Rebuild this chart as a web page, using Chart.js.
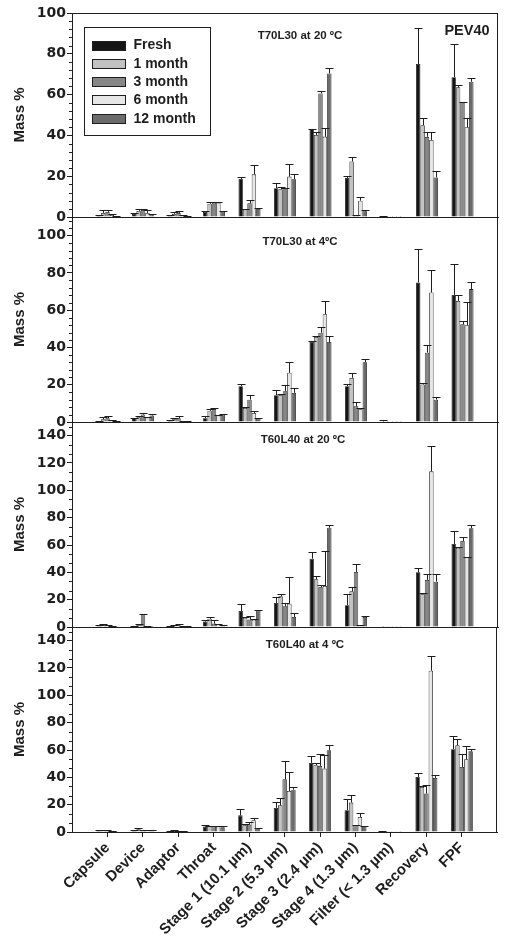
<!DOCTYPE html>
<html><head><meta charset="utf-8">
<script src="https://cdn.jsdelivr.net/npm/chart.js@4/dist/chart.umd.min.js"></script>
<style>
html,body{margin:0;padding:0;background:#fff;}
#wrap{position:relative;width:512px;height:942px;overflow:hidden;background:#fff;}
canvas{position:absolute;left:0;}
</style></head><body><div id="wrap">
<canvas id="c1" width="512" height="230" style="top:0px"></canvas>
<canvas id="c2" width="512" height="230" style="top:205px"></canvas>
<canvas id="c3" width="512" height="230" style="top:410px"></canvas>
<canvas id="c4" width="512" height="327" style="top:615px"></canvas>
</div>
<script>
// ---------- DATA ----------
const categories = ['Capsule','Device','Adaptor','Throat','Stage 1 (10.1 µm)','Stage 2 (5.3 µm)','Stage 3 (2.4 µm)','Stage 4 (1.3 µm)','Filter (< 1.3 µm)','Recovery','FPF'];
const seriesNames = ['Fresh','1 month','3 month','6 month','12 month'];
const panelTitles = ['T70L30 at 20 ºC','T70L30 at 4ºC','T60L40 at 20 ºC','T60L40 at 4 ºC'];
const yTicksA = [0,20,40,60,80,100];
const yTicksB = [0,20,40,60,80,100,120,140];

// T70L30 at 20 ºC : mean and SD (rows = Fresh, 1, 3, 6, 12 month)
const t70l30_20_mean = [
  [0.5,1.5,0.5,2.5,18.6,14.1,43.0,19.1,0.2,75.0,68.5],
  [2.0,3.0,1.5,6.5,3.8,13.6,40.2,27.2,0.1,45.0,63.6],
  [2.5,3.5,2.0,7.0,6.7,14.1,60.6,0.8,0.1,39.3,56.0],
  [1.0,2.0,0.5,7.0,20.9,19.8,39.4,8.0,0.1,37.8,44.0],
  [0.3,0.8,0.3,2.6,3.9,18.5,70.4,2.8,0.1,19.4,66.3]
];
const t70l30_20_sd = [
  [0.3,0.5,0.3,0.5,1.2,2.7,0.3,1.0,0.1,17.8,16.3],
  [1.2,1.0,1.0,1.0,0.3,1.3,1.3,2.0,0.1,3.5,1.2],
  [1.0,0.5,1.0,0.5,1.5,0.3,1.0,0.3,0.1,2.5,0.5],
  [0.5,1.5,0.3,0.5,4.6,6.3,4.1,1.8,0.1,3.8,4.5],
  [0.2,0.5,0.2,0.3,0.4,2.4,2.6,0.5,0.1,3.2,1.8]
];
// T70L30 at 4 ºC
const t70l30_4_mean = [
  [0.3,2.0,1.0,2.0,19.2,14.4,43.1,19.2,0.3,74.9,68.2],
  [1.5,2.5,1.5,6.0,7.5,14.5,45.6,23.7,0.1,20.1,65.0],
  [2.0,4.0,2.0,7.0,12.0,16.5,47.9,8.4,0.1,37.2,52.4],
  [0.7,2.5,0.5,3.5,4.8,26.4,57.8,7.0,0.1,69.5,51.9],
  [0.6,3.5,0.3,4.0,1.8,15.6,42.9,32.1,0.1,12.0,71.3]
];
const t70l30_4_sd = [
  [0.1,0.3,0.3,1.0,1.1,3.0,0.3,1.3,0.6,17.9,16.4],
  [1.0,0.5,0.5,1.0,0.3,0.3,0.4,2.7,0.1,0.9,3.2],
  [1.0,0.8,1.0,0.3,2.4,3.1,3.3,2.2,0.1,4.1,2.0],
  [0.3,0.3,0.2,0.5,0.9,5.9,7.2,0.3,0.1,12.0,12.7],
  [0.2,0.6,0.1,0.3,0.4,2.7,3.1,1.5,0.1,1.5,3.9]
];
// T60L40 at 20 ºC
const t60l40_20_mean = [
  [0.8,0.5,0.5,4.0,11.7,17.6,50.0,15.9,0.2,40.1,60.8],
  [1.2,1.5,1.0,6.0,6.8,22.5,35.0,26.1,0.1,24.2,58.0],
  [1.0,9.5,1.2,2.5,5.4,15.1,29.3,40.3,0.1,34.5,63.0],
  [0.3,0.3,0.4,2.0,5.4,17.0,30.0,0.7,0.1,113.9,51.0],
  [0.2,0.2,0.3,1.0,12.2,7.3,72.6,7.3,0.1,33.2,72.3]
];
const t60l40_20_sd = [
  [0.3,0.2,0.2,0.9,4.9,4.4,5.0,8.3,0.1,2.9,9.6],
  [0.8,0.5,0.5,1.3,0.5,1.9,2.0,3.2,0.1,0.4,0.5],
  [0.3,0.3,0.8,2.4,2.6,2.5,1.2,6.1,0.1,4.4,3.2],
  [0.1,0.1,0.1,0.3,0.3,19.6,25.5,0.5,0.1,18.8,0.5],
  [0.1,0.1,0.1,0.3,0.2,3.2,1.9,1.0,0.1,5.4,2.2]
];
// T60L40 at 4 ºC
const t60l40_4_mean = [
  [0.8,0.8,0.5,4.0,12.2,17.6,50.6,15.9,0.3,40.3,60.6],
  [1.0,2.0,0.8,4.0,4.9,19.5,48.9,21.5,0.1,33.0,63.5],
  [0.8,1.5,0.3,4.0,5.4,38.6,48.4,4.9,0.1,28.1,47.6],
  [0.3,1.0,0.3,4.0,8.6,30.0,46.4,11.0,0.1,118.0,53.3],
  [0.2,1.0,0.2,3.5,2.0,31.0,59.9,4.2,0.1,39.6,59.1]
];
const t60l40_4_sd = [
  [0.3,0.3,0.2,0.9,4.4,4.6,4.9,8.0,0.4,2.9,9.5],
  [0.3,1.2,0.4,0.3,1.2,5.7,1.9,5.9,0.1,0.7,4.9],
  [0.7,0.3,0.1,0.3,1.9,13.2,9.0,0.5,0.1,6.6,9.3],
  [0.1,0.3,0.1,0.3,1.9,14.0,9.8,2.9,0.1,11.0,9.7],
  [0.1,0.3,0.1,0.7,0.7,2.2,4.1,0.3,0.1,2.4,1.9]
];

// ---------- STYLE ----------
const seriesColors = ['#151515','#c2c2c2','#878787','#e6e6e6','#6b6b6b'];
const INK = '#1e1e1e';
const SANS = '"Liberation Sans", Arial, Helvetica, sans-serif';
Chart.defaults.font.family = SANS;
Chart.defaults.color = INK;

const paddedLabels = [''].concat(categories, ['']);
const pad = arr => [null].concat(arr, [null]);

const decor = {
  id: 'decor',
  afterDatasetsDraw(chart, args, o) {
    const ctx = chart.ctx, a = chart.chartArea, ys = chart.scales.y;
    ctx.save();
    // error bars (upper)
    ctx.strokeStyle = INK; ctx.lineWidth = 1;
    chart.data.datasets.forEach((ds, i) => {
      const meta = chart.getDatasetMeta(i);
      meta.data.forEach((el, j) => {
        const v = ds.data[j], e = ds.errors[j];
        if (v == null || e == null) return;
        const yt = Math.round(ys.getPixelForValue(v + e)) + 0.5;
        const x = Math.round(el.x) + 0.5;
        ctx.beginPath();
        ctx.moveTo(x, el.y); ctx.lineTo(x, yt);
        ctx.moveTo(x - 4, yt); ctx.lineTo(x + 4, yt);
        ctx.stroke();
      });
    });
    // frame
    ctx.strokeStyle = INK; ctx.lineWidth = 1;
    ctx.strokeRect(Math.round(a.left) + 0.5, Math.round(a.top) + 0.5, Math.round(a.right - a.left) - 1, Math.round(a.bottom - a.top));
    // minor ticks
    const max = ys.max;
    for (let v = 0; v <= max + 1e-6; v += o.minorStep) {
      if (Math.abs(v / 20 - Math.round(v / 20)) < 1e-6) continue;
      const y = Math.round(ys.getPixelForValue(v)) + 0.5;
      ctx.beginPath(); ctx.moveTo(a.left - 3, y); ctx.lineTo(a.left, y); ctx.stroke();
    }
    // panel title
    ctx.fillStyle = INK;
    ctx.font = 'bold 11.5px ' + SANS;
    ctx.textAlign = 'center'; ctx.textBaseline = 'middle';
    ctx.fillText(o.title, o.titleX, a.top + o.titleDy);
    if (o.tag) {
      ctx.font = 'bold 14.5px ' + SANS;
      ctx.fillText(o.tag, 467, a.top + 18);
    }
    if (o.legend) {
      const bx = 84.5, by = 27.5, bw = 126, bh = 108;
      ctx.fillStyle = '#fff';
      ctx.fillRect(bx, by, bw, bh);
      ctx.strokeStyle = INK; ctx.strokeRect(bx, by, bw, bh);
      ctx.font = 'bold 14px ' + SANS;
      ctx.textAlign = 'left';
      chart.data.datasets.forEach((ds, i) => {
        const cy = 45 + i * 18.3;
        ctx.fillStyle = ds.backgroundColor;
        ctx.fillRect(92.5, Math.round(cy - 4.5) + 0.5, 33, 9);
        ctx.strokeStyle = INK;
        ctx.strokeRect(92.5, Math.round(cy - 4.5) + 0.5, 33, 9);
        ctx.fillStyle = INK;
        ctx.fillText(ds.label, 133.5, cy + 0.5);
      });
    }
    ctx.restore();
  }
};

function makePanel(id, means, sds, opts) {
  const datasets = seriesNames.map((name, i) => ({
    label: name,
    data: pad(means[i]),
    errors: pad(sds[i]),
    backgroundColor: seriesColors[i],
    borderColor: INK,
    borderWidth: 0.8,
    barPercentage: 1.0,
    categoryPercentage: 0.62
  }));
  const xScale = opts.bottom ? {
    type: 'category', offset: false,
    grid: { display: true, drawOnChartArea: false, drawTicks: true, tickLength: 5, offset: false,
            color: c => (c.index === 0 || c.index === paddedLabels.length - 1) ? 'rgba(0,0,0,0)' : INK },
    border: { display: true, color: INK },
    ticks: { autoSkip: false, maxRotation: 45, minRotation: 45, padding: 2, color: INK,
             font: { family: SANS, size: 15, weight: 'bold' } },
    afterFit(s) { s.height = 110; }
  } : {
    type: 'category', offset: false,
    grid: { display: false, offset: false },
    border: { display: true, color: INK },
    ticks: { display: false },
    afterFit(s) { s.height = 13; }
  };
  return new Chart(document.getElementById(id), {
    type: 'bar',
    data: { labels: paddedLabels, datasets },
    options: {
      responsive: false, animation: false, devicePixelRatio: 1,
      layout: { padding: { left: 0, right: 14, top: opts.padTop, bottom: 0 } },
      plugins: {
        legend: { display: false }, tooltip: { enabled: false },
        decor: { title: opts.title, titleX: opts.titleX, titleDy: opts.titleDy, minorStep: opts.minorStep,
                 legend: !!opts.legend, tag: opts.tag || null }
      },
      scales: {
        x: xScale,
        y: {
          min: 0, max: opts.yMax,
          afterBuildTicks(s) { s.ticks = opts.yTicks.map(v => ({ value: v })); },
          afterFit(s) { s.width = 72; },
          grid: { drawOnChartArea: false, drawTicks: true, tickLength: 5, color: INK },
          border: { display: true, color: INK },
          ticks: { padding: 1, color: INK, font: { family: '"DejaVu Sans", sans-serif', size: 14, weight: 'bold' } },
          title: { display: true, text: 'Mass %', color: INK, padding: { top: 11, bottom: 0 },
                   font: { family: SANS, size: 15, weight: 'bold' } }
        }
      }
    },
    plugins: [decor]
  });
}

makePanel('c1', t70l30_20_mean, t70l30_20_sd, { padTop: 13, yMax: 100, yTicks: yTicksA, minorStep: 4,
  title: panelTitles[0], titleX: 300, titleDy: 23, legend: true, tag: 'PEV40' });
makePanel('c2', t70l30_4_mean, t70l30_4_sd, { padTop: 12, yMax: 110, yTicks: yTicksA, minorStep: 4,
  title: panelTitles[1], titleX: 300, titleDy: 24.7 });
makePanel('c3', t60l40_20_mean, t60l40_20_sd, { padTop: 12, yMax: 150, yTicks: yTicksB, minorStep: 20/3,
  title: panelTitles[2], titleX: 303, titleDy: 18 });
makePanel('c4', t60l40_4_mean, t60l40_4_sd, { padTop: 12, yMax: 150, yTicks: yTicksB, minorStep: 20/3,
  title: panelTitles[3], titleX: 305, titleDy: 18, bottom: true });
</script></body></html>
